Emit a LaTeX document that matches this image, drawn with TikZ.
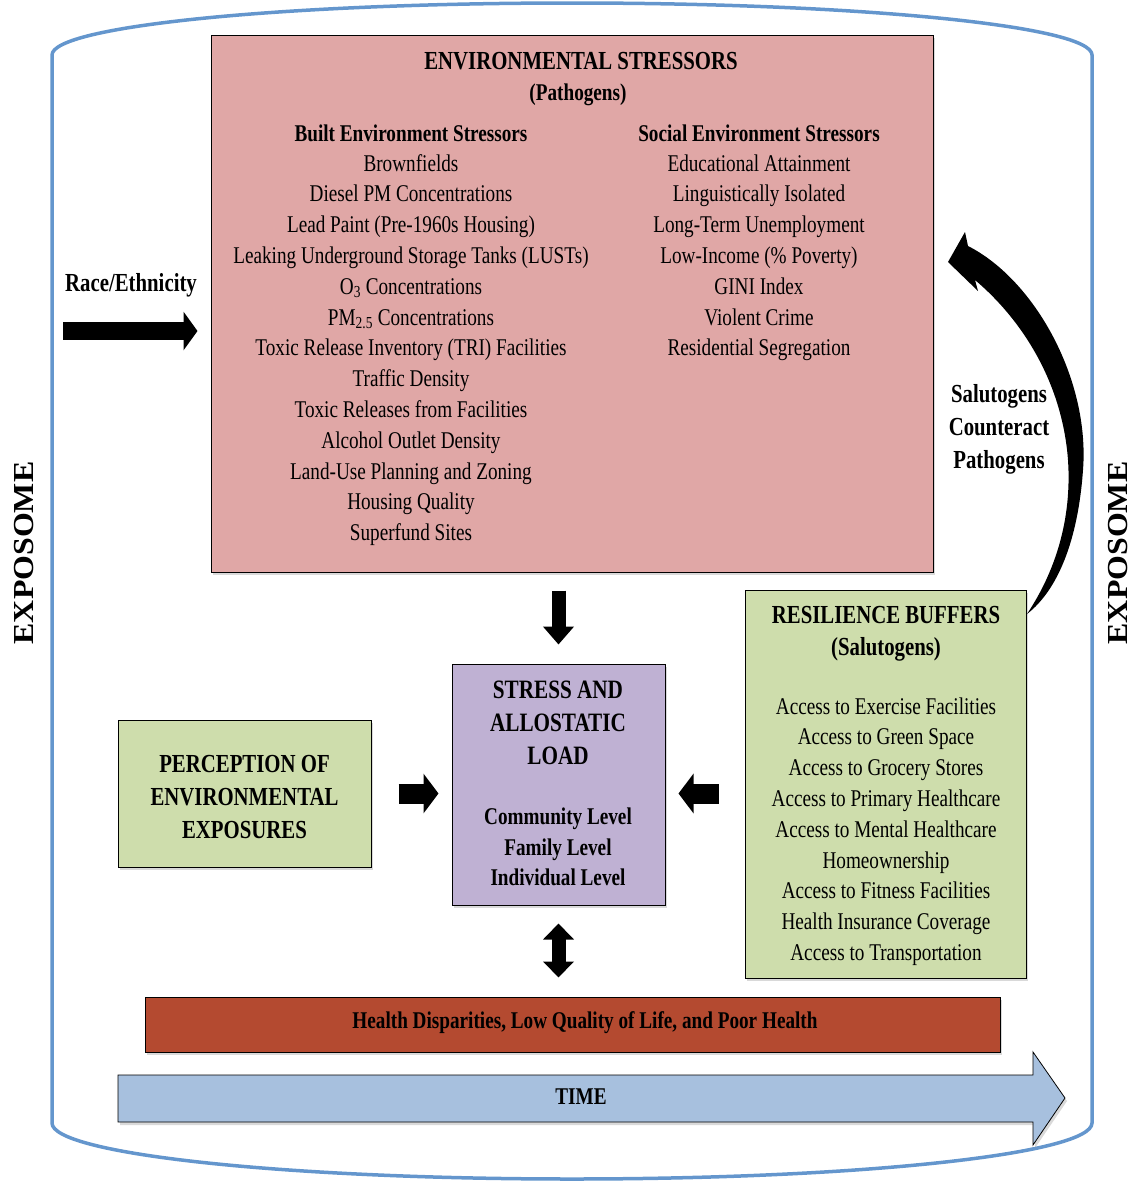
\documentclass[tikz,border=0pt]{standalone}
\usepackage{fontspec}
\setmainfont{Liberation Serif}[FakeStretch=0.8]
\newfontfamily\widefont{Liberation Serif}[FakeStretch=1.1]
\usetikzlibrary{arrows.meta,calc,shadows}

\definecolor{exposome}{RGB}{100,150,205}
\definecolor{envred}{RGB}{224,167,166}
\definecolor{buffergreen}{RGB}{206,221,172}
\definecolor{stresslilac}{RGB}{191,177,211}
\definecolor{healthred}{RGB}{180,74,48}
\definecolor{timeblue}{RGB}{167,192,222}

\begin{document}
\begin{tikzpicture}[x=1pt, y=-1pt,
    box/.style={draw, line width=1pt, inner sep=0pt, drop shadow={opacity=0.3, shadow xshift=2pt, shadow yshift=-3pt}},
    item/.style={anchor=base, inner sep=0pt, font=\fontsize{24}{30}\selectfont},
    head/.style={anchor=base, inner sep=0pt, font=\fontsize{24}{30}\selectfont\bfseries},
    bighead/.style={anchor=base, inner sep=0pt, font=\fontsize{26}{30}\selectfont\bfseries},
    sidelabel/.style={rotate=90, inner sep=0pt, text height=20pt, text depth=0pt, font=\widefont\fontsize{29}{30}\selectfont\bfseries},
    fat/.style={line width=14pt, -{Triangle[length=18pt, width=30pt]}},
    fatshort/.style={line width=20pt, -{Triangle[length=15pt, width=39pt]}}
]
    \useasboundingbox (0,0) rectangle (1131,1184);

    % Exposome cylinder
    \draw[line width=3.5pt, exposome] (52,1123) -- (52,55) .. controls (52,26) and (285,3) .. (572,3)
        .. controls (859,3) and (1092,26) .. (1092,55) -- (1092,1123)
        .. controls (1092,1154) and (859,1179) .. (572,1179)
        .. controls (285,1179) and (52,1154) .. (52,1123) -- cycle;
    \node[sidelabel] (expleft) at (23,553) {EXPOSOME};
    \node[sidelabel] (expright) at (1117,553) {EXPOSOME};

    % Environmental stressors
    \node[box, fill=envred, minimum width=722pt, minimum height=537pt] (env) at (572,303.5) {};
    \node[bighead] (envtitle) at (581,69) {ENVIRONMENTAL STRESSORS};
    \node[head] (envsub) at (578,100) {(Pathogens)};
    \node[head] (builthead) at (411,141) {Built Environment Stressors};
    \node[head] (socialhead) at (759,141) {Social Environment Stressors};
    \foreach \t [count=\i] in {Brownfields, Diesel PM Concentrations, Lead Paint (Pre-1960s Housing),
        Leaking Underground Storage Tanks (LUSTs), O\textsubscript{3} Concentrations,
        PM\textsubscript{2.5} Concentrations, Toxic Release Inventory (TRI) Facilities, Traffic Density,
        Toxic Releases from Facilities, Alcohol Outlet Density, Land-Use Planning and Zoning,
        Housing Quality, Superfund Sites}
        \node[item] (built\i) at (411,{171+30.8*(\i-1)}) {\t};
    \foreach \t [count=\i] in {Educational Attainment, Linguistically Isolated, Long-Term Unemployment,
        Low-Income (\% Poverty), GINI Index, Violent Crime, Residential Segregation}
        \node[item] (social\i) at (759,{171+30.8*(\i-1)}) {\t};

    % Race/Ethnicity
    \node[bighead] (race) at (131,291) {Race/Ethnicity};
    \coordinate (racetail) at (63,331);
    \draw[line width=18pt, -{Triangle[length=14pt, width=38pt]}] (racetail) -- ($(env.west |- racetail)+(-13,0)$);

    % Stress and allostatic load
    \node[box, fill=stresslilac, minimum width=213pt, minimum height=241pt] (stress) at (558.5,784.5) {};
    \node[align=center, inner sep=0pt, font=\fontsize{26.5}{33}\selectfont\bfseries] (stresstitle) at (558,723) {STRESS AND\\ALLOSTATIC\\LOAD};
    \node[align=center, inner sep=0pt, font=\fontsize{24}{30.5}\selectfont\bfseries] (levels) at (558,847) {Community Level\\Family Level\\Individual Level};

    % Perception
    \node[box, fill=buffergreen, minimum width=253pt, minimum height=147pt] (perc) at (244.5,793.5) {};
    \node[align=center, inner sep=0pt, font=\fontsize{26}{33}\selectfont\bfseries] (perctext) at (244.5,797) {PERCEPTION OF\\ENVIRONMENTAL\\EXPOSURES};

    % Resilience buffers
    \node[box, fill=buffergreen, minimum width=281pt, minimum height=388pt] (res) at (885.5,784) {};
    \node[align=center, inner sep=0pt, font=\fontsize{26}{32}\selectfont\bfseries] (restitle) at (886,634) {RESILIENCE BUFFERS\\(Salutogens)};
    \foreach \t [count=\i] in {Access to Exercise Facilities, Access to Green Space, Access to Grocery Stores,
        Access to Primary Healthcare, Access to Mental Healthcare, Homeownership,
        Access to Fitness Facilities, Health Insurance Coverage, Access to Transportation}
        \node[item] (buf\i) at (886,{714+30.8*(\i-1)}) {\t};

    % Health outcome and time
    \node[box, fill=healthred, minimum width=855pt, minimum height=55pt] (health) at (572.5,1024.5) {};
    \node[inner sep=0pt, font=\fontsize{24}{30}\selectfont\bfseries] (healthtext) at (585,1023) {Health Disparities, Low Quality of Life, and Poor Health};
    \draw[fill=timeblue, line width=0.8pt, drop shadow={opacity=0.3, shadow xshift=2pt, shadow yshift=-3pt}]
        (118,1075) -- (1033,1075) -- (1033,1052) -- (1065,1098) -- (1033,1145) -- (1033,1122) -- (118,1122) -- cycle;
    \node[inner sep=0pt, font=\fontsize{24}{30}\selectfont\bfseries] (time) at (581,1097) {TIME};

    % Block arrows
    \draw[fat] ($(env.south -| stress.north)+(0,18)$) -- ($(stress.north)+(0,-19)$);
    \draw[fatshort] ($(perc.east)+(27,0)$) -- ($(stress.west |- perc.east)+(-13,0)$);
    \draw[fatshort] ($(res.west |- perc.east)+(-26,0)$) -- ($(stress.east |- perc.east)+(13,0)$);
    \draw[line width=14pt, {Triangle[length=16pt, width=30pt]}-{Triangle[length=16pt, width=30pt]}]
        ($(stress.south)+(0,18)$) -- ($(health.north -| stress.south)+(0,-19)$);

    % Salutogens counteract pathogens
    \fill (968,246) .. controls (1035,280) and (1090,380) .. (1083,470)
        .. controls (1078,540) and (1058,590) .. (1027,614)
        .. controls (1055,572) and (1072,520) .. (1068,460)
        .. controls (1062,380) and (1020,318) .. (975,280)
        -- (978,291) -- (948,262) -- (965,232) -- cycle;
    \node[align=center, inner sep=0pt, font=\fontsize{26}{33}\selectfont\bfseries] (saluto) at (999,429) {Salutogens\\Counteract\\Pathogens};
\end{tikzpicture}
\end{document}
